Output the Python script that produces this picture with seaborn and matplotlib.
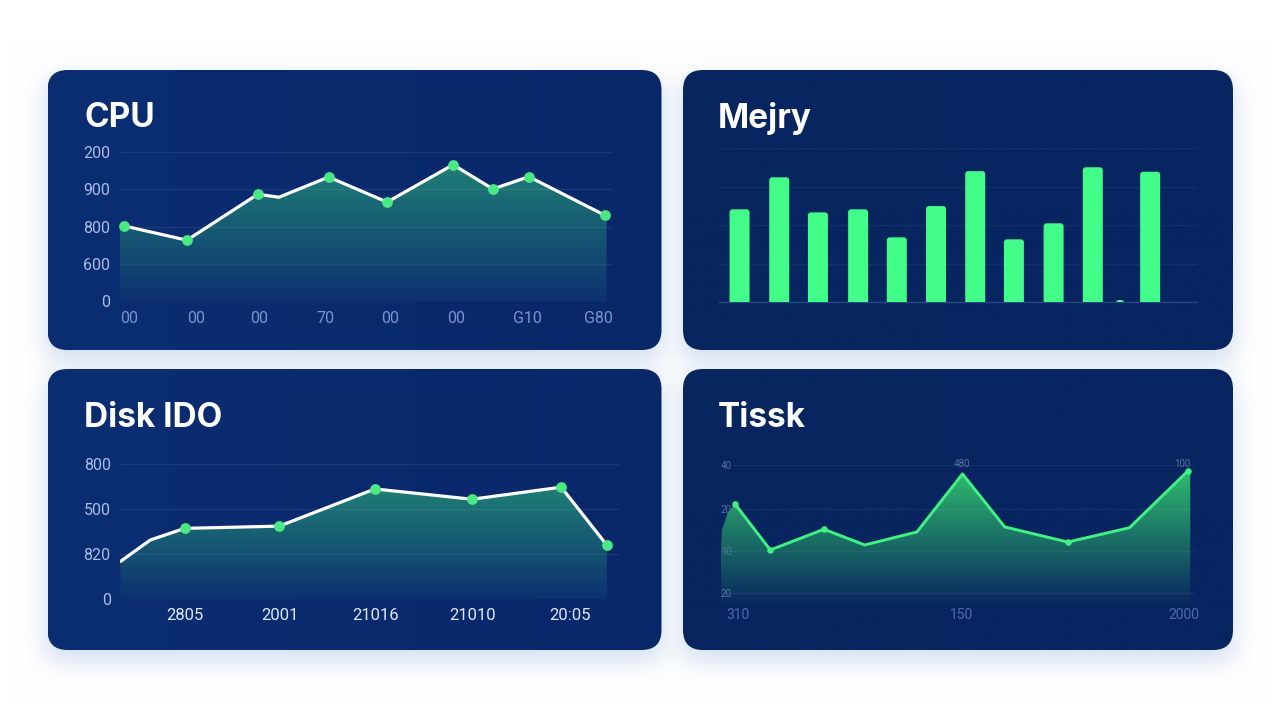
import numpy as np
import pandas as pd
import seaborn as sns
import matplotlib
matplotlib.use("Agg")
import matplotlib.pyplot as plt
from matplotlib.colors import to_rgb
from matplotlib.patches import FancyBboxPatch

# CPU panel
cpu_x = [0.9, 13.6, 28.0, 32.3, 42.4, 54.3, 67.7, 75.8, 83.1, 98.5]
cpu_y = [202, 164, 287, 279, 333, 266, 366, 301, 334, 231]
cpu_marked = [True, True, True, False, True, True, True, True, True, True]
cpu_yticks = [0, 100, 200, 300, 400]
cpu_ylabels = ["0", "600", "800", "900", "200"]
cpu_xticks = [1.8, 15.4, 28.3, 41.7, 54.9, 68.3, 82.9, 97.2]
cpu_xlabels = ["00", "00", "00", "70", "00", "00", "G10", "G80"]

# memory panel
mem_x = [4.3, 12.6, 20.7, 29.1, 37.2, 45.4, 53.6, 61.7, 70.0, 78.2, 83.9, 90.2]
mem_y = [60.2, 81.0, 58.2, 60.2, 42.0, 62.3, 85.0, 40.7, 51.1, 87.5, 1.3, 84.6]
mem_grid = [25, 50, 75, 100]

# disk panel
disk_x = [0.0, 6.0, 12.9, 31.9, 51.1, 70.6, 88.5, 97.7]
disk_y = [83, 131, 157, 162, 245, 222, 249, 119]
disk_marked = [False, False, True, True, True, True, True, True]
disk_yticks = [0, 100, 200, 300]
disk_ylabels = ["0", "820", "500", "800"]
disk_xticks = [13.0, 32.0, 51.2, 70.7, 90.3]
disk_xlabels = ["2805", "2001", "21016", "21010", "20:05"]

# task panel
task_x = [3.06, 10.5, 21.8, 30.4, 41.4, 51.0, 59.9, 73.2, 86.2, 98.5]
task_y = [69.5, 33.6, 49.8, 37.5, 47.7, 93.0, 51.6, 39.8, 51.0, 95.3]
task_marked = [True, True, True, False, False, False, False, True, False, True]
task_lead_x = [0.0, 0.3, 1.6]
task_lead_y = [25.8, 49.2, 63.3]
task_yticks = [0, 33, 66, 100]
task_ylabels = ["20", "10", "20", "40"]
task_xticks = [3.6, 50.8, 97.6]
task_xlabels = ["310", "150", "2000"]
task_top_x = [50.8, 97.3]
task_top_labels = ["480", "100"]

WHITE = "#ffffff"
GREEN = "#4be983"
BRIGHT = "#42fd88"

CARDS = [
    (47.5, 70, 661.5, 350, "#0b2d72", "#09286a"),
    (683, 70, 1233, 350, "#07255f", "#072561"),
    (47.5, 369, 661.5, 650, "#0b2d72", "#09286a"),
    (683, 369, 1233, 650, "#07255f", "#072561"),
]

sns.set_theme(style="white")
plt.rcParams["font.family"] = ["Inter", "Roboto", "DejaVu Sans"]

fig = plt.figure(figsize=(12.8, 7.2), dpi=100, facecolor="#ffffff")
bg = fig.add_axes([0, 0, 1, 1])
bg.set_axis_off()


def box_blur(arr, size, axis):
    kernel = np.ones(size) / size
    return np.apply_along_axis(lambda v: np.convolve(v, kernel, mode="same"), axis, arr)


def draw_shadow():
    # page background, blurred mask of the cards tinted blue
    mask = np.zeros((720, 1280))
    for left, top, right, bottom, _, _ in CARDS:
        mask[int(top) + 10:int(bottom) + 10, int(left):int(right)] = 1
    for _ in range(4):
        mask = box_blur(box_blur(mask, 21, 0), 21, 1)
    alpha = (mask * 0.33)[:, :, None]
    page = np.ones((720, 1280, 3)) * (1 - alpha) + np.array(to_rgb("#6f98d4")) * alpha
    bg.imshow(page, extent=[0, 1280, 720, 0], aspect="auto", zorder=0)


def draw_card(left, top, right, bottom, col_left, col_right):
    box = FancyBboxPatch(
        (left, top), right - left, bottom - top,
        boxstyle="round,pad=0,rounding_size=20", fc="none", ec="none", zorder=2)
    bg.add_patch(box)
    c0, c1 = np.array(to_rgb(col_left)), np.array(to_rgb(col_right))
    ramp = np.linspace(0, 1, 64)[None, :, None]
    im = bg.imshow(c0 + (c1 - c0) * ramp, extent=[left, right, bottom, top],
                   aspect="auto", zorder=2, interpolation="bilinear")
    im.set_clip_path(box)


def panel_axes(left, top, right, bottom):
    ax = fig.add_axes([left / 1280, 1 - bottom / 720, (right - left) / 1280, (bottom - top) / 720])
    ax.patch.set_alpha(0)
    sns.despine(ax=ax, left=True, bottom=True)
    return ax


def gradient_fill(ax, x, y, base, top_col, bottom_col):
    poly = ax.fill_between(x, y, base, color="none", lw=0)
    c0, c1 = np.array(to_rgb(bottom_col)), np.array(to_rgb(top_col))
    ramp = np.linspace(0, 1, 128)[:, None, None]
    im = ax.imshow(c0 + (c1 - c0) * ramp, origin="lower", aspect="auto",
                   extent=[min(x), max(x), base, max(y)], zorder=0.3, interpolation="bilinear")
    im.set_clip_path(poly.get_paths()[0], ax.transData)


def style_ticks(ax, xticks, xlabels, yticks, ylabels, xcol, ycol, xsize=11.5, ysize=11.5):
    ax.set_xticks(xticks, xlabels)
    ax.set_yticks(yticks, ylabels)
    ax.tick_params(axis="x", length=0, pad=7, labelcolor=xcol, labelsize=xsize)
    ax.tick_params(axis="y", length=0, pad=7, labelcolor=ycol, labelsize=ysize)
    for lab in ax.get_xticklabels() + ax.get_yticklabels():
        lab.set_fontfamily(["Roboto", "DejaVu Sans"])
    ax.grid(axis="y", color="white", alpha=0.07, lw=1)
    ax.grid(axis="x", visible=False)
    ax.set_axisbelow(True)


def title(x, y, text):
    bg.text(x, y, text, color=WHITE, fontsize=24, fontweight="bold",
            ha="left", va="baseline", zorder=5)


# cards
draw_shadow()
for card in CARDS:
    draw_card(*card)
bg.set_xlim(0, 1280)
bg.set_ylim(720, 0)

title(84, 127, "CPU")
title(718, 128, "Mejry")
title(84, 427, "Disk IDO")
title(718, 427, "Tissk")

# CPU
ax = panel_axes(120, 152, 612, 301.5)
cpu = pd.DataFrame({"x": cpu_x, "y": cpu_y, "marked": cpu_marked})
gradient_fill(ax, [0] + cpu_x + [98.9], [207] + cpu_y + [231], 0, "#1f7f76", "#0d3170")
sns.lineplot(data=cpu, x="x", y="y", color=WHITE, lw=2.3, ax=ax, zorder=3, errorbar=None)
sns.scatterplot(data=cpu[cpu.marked], x="x", y="y", color=GREEN, s=60, lw=0, ax=ax, zorder=4, clip_on=False)
style_ticks(ax, cpu_xticks, cpu_xlabels, cpu_yticks, cpu_ylabels, "#7a94cc", "#a9bce6")
ax.set(xlim=(0, 100), ylim=(0, 400), xlabel="", ylabel="")

# memory
ax = panel_axes(719, 148, 1197, 302)
mem = pd.DataFrame({"x": mem_x, "y": mem_y})
sns.barplot(data=mem, x="x", y="y", native_scale=True, width=0.733, color=BRIGHT,
            saturation=1, ax=ax, zorder=3)
ax.set(xlim=(0, 100), ylim=(0, 100), xlabel="", ylabel="")
px_x, px_y = 478 / 100, 154 / 100
for bar in list(ax.patches):
    x0, w, h = bar.get_x(), bar.get_width(), bar.get_height()
    if h < 5:
        x0, w = x0 + w * 0.3, w * 0.4
    bar.set_visible(False)
    # rounded top, the lower corners stay hidden below the axis
    ax.add_patch(FancyBboxPatch(
        (x0, -5), w, h + 5, boxstyle=f"round,pad=0,rounding_size={3 / px_x}",
        mutation_aspect=px_x / px_y, fc=BRIGHT, ec="none", zorder=3))
ax.set_xticks([])
ax.set_yticks(mem_grid, [""] * len(mem_grid))
ax.tick_params(length=0)
ax.grid(axis="y", color="white", alpha=0.05, lw=1)
ax.grid(axis="x", visible=False)
ax.set_axisbelow(True)
ax.spines["bottom"].set_visible(True)
ax.spines["bottom"].set_color("#26477f")
ax.spines["bottom"].set_linewidth(1)

# disk
ax = panel_axes(120.4, 464.3, 618.5, 598.7)
disk = pd.DataFrame({"x": disk_x, "y": disk_y, "marked": disk_marked})
gradient_fill(ax, disk_x, disk_y, 0, "#1f7f76", "#0d3170")
sns.lineplot(data=disk, x="x", y="y", color=WHITE, lw=2.3, ax=ax, zorder=3, errorbar=None)
sns.scatterplot(data=disk[disk.marked], x="x", y="y", color=GREEN, s=60, lw=0, ax=ax, zorder=4, clip_on=False)
style_ticks(ax, disk_xticks, disk_xlabels, disk_yticks, disk_ylabels, "#dfe7f7", "#a9bce6", xsize=12)
ax.set(xlim=(0, 100), ylim=(0, 300), xlabel="", ylabel="")

# task
ax = panel_axes(720.5, 465, 1195, 605)
task = pd.DataFrame({"x": task_x, "y": task_y, "marked": task_marked})
gradient_fill(ax, task_lead_x + task_x + [99.0], task_lead_y + task_y + [95.3], -9.4, "#2fbb6e", "#08275f")
sns.lineplot(data=task, x="x", y="y", color="#3ff281", lw=2.1, ax=ax, zorder=3, errorbar=None)
sns.scatterplot(data=task[task.marked], x="x", y="y", color="#3ff281", s=22, lw=0, ax=ax, zorder=4, clip_on=False)
style_ticks(ax, task_xticks, task_xlabels, task_yticks, task_ylabels, "#4f6ca8", "#55729f", xsize=10, ysize=7)
ax.tick_params(axis="y", pad=-8)
ax.tick_params(axis="x", pad=2)
ax.set(xlim=(0, 100), ylim=(-9.4, 100), xlabel="", ylabel="")
ax.grid(axis="y", color="white", alpha=0.05, lw=1)
for tx, tl in zip(task_top_x, task_top_labels):
    ax.text(tx, 101, tl, color="#55729f", fontsize=7, ha="center", va="center",
            family=["Roboto", "DejaVu Sans"])

fig.savefig("out.png", dpi=100)
